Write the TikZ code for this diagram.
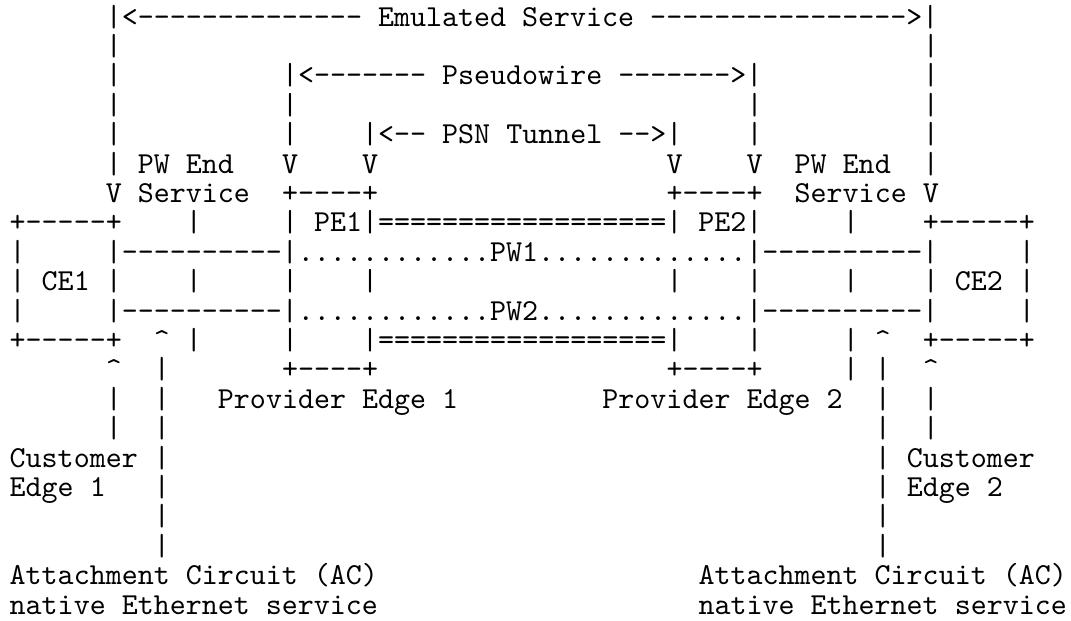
\documentclass[tikz,border=0pt]{standalone}
\usepackage{fontspec}
\setmonofont{lmmono10-regular.otf}
\usetikzlibrary{positioning}
\ExplSyntaxOn
\cs_new:Npn \myrep #1#2 { \prg_replicate:nn {#1} {#2} }
\ExplSyntaxOff
\tikzset{txt/.style={inner sep=0pt,outer sep=0pt,anchor=base west,font=\ttfamily\fontsize{30.5}{33}\selectfont,text=black}}
\newcommand\tx[4]{\node[txt] (#1) at ({9.7+16.02*#2},{-26-29.4*#3}) {#4};}
\begin{document}
\begin{tikzpicture}[x=1pt,y=1pt]
\fill[white] (0,0) rectangle (1071,-621);
\useasboundingbox (0,0) rectangle (1071,-621);
% row 0
\tx{emul}{6}{0}{|<\myrep{14}{-} Emulated Service \myrep{16}{-}>|}
% row 1
\tx{a1}{6}{1}{|}\tx{b1}{57}{1}{|}
% row 2
\tx{a2}{6}{2}{|}\tx{pw}{17}{2}{|<\myrep{7}{-} Pseudowire \myrep{7}{-}>|}\tx{b2}{57}{2}{|}
% row 3
\tx{a3}{6}{3}{|}\tx{c3}{17}{3}{|}\tx{d3}{46}{3}{|}\tx{b3}{57}{3}{|}
% row 4
\tx{a4}{6}{4}{|}\tx{c4}{17}{4}{|}\tx{psn}{22}{4}{|<\myrep{2}{-} PSN Tunnel \myrep{2}{-}>|}\tx{d4}{46}{4}{|}\tx{b4}{57}{4}{|}
% row 5
\tx{pwend1}{6}{5}{| PW End}\tx{v5a}{17}{5}{V}\tx{v5b}{22}{5}{V}\tx{v5c}{41}{5}{V}\tx{v5d}{46}{5}{V}\tx{pwend2}{49}{5}{PW End}\tx{b5}{57}{5}{|}
% row 6
\tx{serv1}{6}{6}{V Service}\tx{pe1top}{17}{6}{+\myrep{4}{-}+}\tx{pe2top}{41}{6}{+\myrep{4}{-}+}\tx{serv2}{49}{6}{Service V}
% row 7
\tx{ce1top}{0}{7}{+\myrep{5}{-}+}\tx{s7a}{11}{7}{|}\tx{pe}{17}{7}{| PE1|\myrep{18}{=}| PE2|}\tx{s7b}{52}{7}{|}\tx{ce2top}{57}{7}{+\myrep{5}{-}+}
% row 8
\tx{l8}{0}{8}{|}\tx{pw1}{6}{8}{|\myrep{10}{-}|\myrep{12}{.}PW1\myrep{13}{.}|\myrep{10}{-}|}\tx{r8}{63}{8}{|}
% row 9
\tx{ce1}{0}{9}{| CE1 |}\tx{s9a}{11}{9}{|}\tx{s9b}{17}{9}{|}\tx{s9c}{22}{9}{|}\tx{s9d}{41}{9}{|}\tx{s9e}{46}{9}{|}\tx{s9f}{52}{9}{|}\tx{ce2}{57}{9}{| CE2 |}
% row 10
\tx{l10}{0}{10}{|}\tx{pw2}{6}{10}{|\myrep{10}{-}|\myrep{12}{.}PW2\myrep{13}{.}|\myrep{10}{-}|}\tx{r10}{63}{10}{|}
% row 11
\tx{ce1bot}{0}{11}{+\myrep{5}{-}+}\tx{ac1up}{9}{11}{\textasciicircum}\tx{s11a}{11}{11}{|}\tx{s11b}{17}{11}{|}\tx{tun}{22}{11}{|\myrep{18}{=}|}\tx{s11c}{46}{11}{|}\tx{s11d}{52}{11}{|}\tx{ac2up}{54}{11}{\textasciicircum}\tx{ce2bot}{57}{11}{+\myrep{5}{-}+}
% row 12
\tx{ce1up}{6}{12}{\textasciicircum}\tx{s12a}{9}{12}{|}\tx{pe1bot}{17}{12}{+\myrep{4}{-}+}\tx{pe2bot}{41}{12}{+\myrep{4}{-}+}\tx{s12b}{52}{12}{|}\tx{s12c}{54}{12}{|}\tx{ce2up}{57}{12}{\textasciicircum}
% row 13
\tx{s13a}{6}{13}{|}\tx{s13b}{9}{13}{|}\tx{prov1}{13}{13}{Provider Edge 1}\tx{prov2}{37}{13}{Provider Edge 2}\tx{s13c}{54}{13}{|}\tx{s13d}{57}{13}{|}
% row 14
\tx{s14a}{6}{14}{|}\tx{s14b}{9}{14}{|}\tx{s14c}{54}{14}{|}\tx{s14d}{57}{14}{|}
% row 15
\tx{cust1}{0}{15}{Customer}\tx{s15a}{9}{15}{|}\tx{s15b}{54}{15}{|}\tx{cust2}{56}{15}{Customer}
% row 16
\tx{edge1}{0}{16}{Edge 1}\tx{s16a}{9}{16}{|}\tx{s16b}{54}{16}{|}\tx{edge2}{56}{16}{Edge 2}
% row 17
\tx{s17a}{9}{17}{|}\tx{s17b}{54}{17}{|}
% row 18
\tx{s18a}{9}{18}{|}\tx{s18b}{54}{18}{|}
% row 19
\tx{att1}{0}{19}{Attachment Circuit (AC)}\tx{att2}{43}{19}{Attachment Circuit (AC)}
% row 20
\tx{nat1}{0}{20}{native Ethernet service}\tx{nat2}{43}{20}{native Ethernet service}
\end{tikzpicture}
\end{document}
